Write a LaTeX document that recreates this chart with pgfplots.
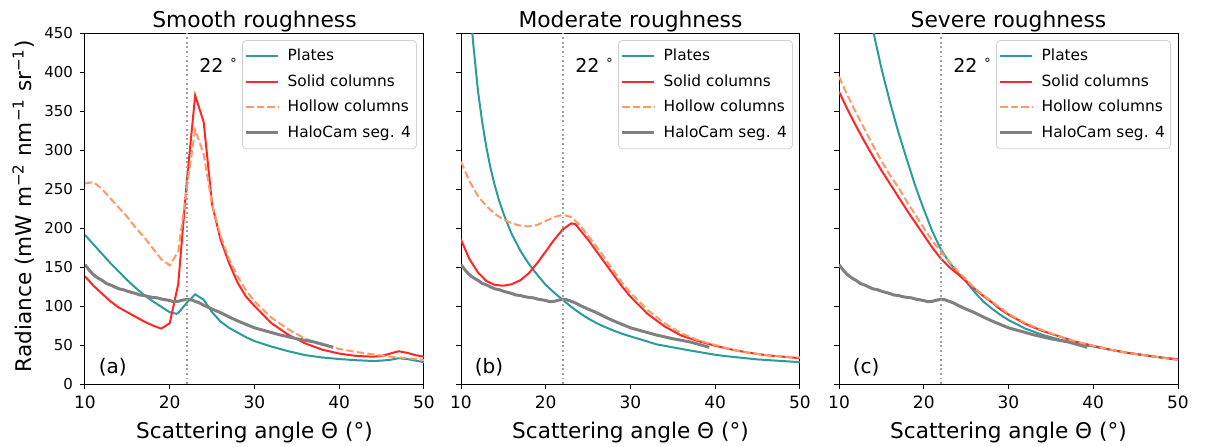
\documentclass[border=0pt]{standalone}
\usepackage{fontspec}
\setmainfont{DejaVu Sans}
\usepackage{pgfplots}
\pgfplotsset{compat=1.18}

\definecolor{cplate}{HTML}{2A9D98}
\definecolor{csolid}{HTML}{FF2626}
\definecolor{chollow}{HTML}{FF9966}
\definecolor{chalo}{HTML}{808080}

\newcommand{\halo}{%
\addplot[chalo, line width=1.5pt] coordinates {
(10,153) (10.5,146) (11,140) (11.5,136) (12,133) (12.5,129) (13,127) (13.5,124.5) (14,122) (14.5,121) (15,119)
(15.5,117.5) (16,116) (16.5,114) (17,113.5) (17.5,112) (18,111) (18.5,110.5) (19,109) (19.5,108) (20,107)
(20.5,105.5) (21,106) (21.5,107.5) (22,108.5) (22.5,108) (23,106) (23.5,104) (24,101) (25,96) (26,91.5)
(27,86) (28,81) (29,76.5) (30,72) (31,69) (32,66) (33,63) (34,60.5) (35,58) (36,56) (37,54) (38,51) (39,48) (39.3,47)};}

\newcommand{\dline}{%
\addplot[gray!75, line width=0.9pt, dash pattern=on 0.9pt off 1.4pt, forget plot] coordinates {(22,0) (22,450)};}

\pgfplotsset{
  myax/.style={
    width=169.5pt, height=175.5pt, scale only axis,
    xmin=10, xmax=50, ymin=0, ymax=450,
    xtick={10,20,30,40,50}, ytick={0,50,...,450},
    xtick pos=bottom, ytick pos=left,
    tick align=outside, major tick length=2.5pt,
    tick style={line width=0.5pt, black},
    axis line style={line width=0.5pt},
    /pgf/number format/assume math mode=true,
    xticklabel style={font=\fontsize{8.5}{10}\selectfont},
    yticklabel style={font=\fontsize{7.5}{9}\selectfont},
    title style={at={(0.5,1)}, anchor=base, yshift=-3pt, font=\fontsize{10.9}{13}\selectfont},
    xlabel={Scattering angle Θ (°)},
    xlabel style={at={(axis description cs:0.5,0)}, anchor=base, yshift=-27pt, font=\fontsize{10.8}{13}\selectfont},
    legend cell align=left,
    legend style={at={(1,1)}, xshift=-3.5pt, yshift=-3.5pt, anchor=north east,
      draw=black!18, rounded corners=2pt, font=\fontsize{7.7}{9}\selectfont,
      inner xsep=0.8pt, inner ysep=2.3pt, row sep=1.4pt},
    legend image code/.code={\draw[#1] (0pt,0pt) -- (16pt,0pt); \path (-0.3pt,0pt) (18pt,0pt);},
    every axis plot/.append style={line width=1pt},
  }
}

\begin{document}
\begin{tikzpicture}
\useasboundingbox (-42.5pt,-31pt) rectangle (560pt,192pt);

% ---------------- (a) ----------------
\begin{axis}[myax, at={(0pt,0pt)}, title={Smooth roughness}]
\addplot[cplate] coordinates {
(10,191) (11,179) (12,167) (13,155) (14,144) (15,133) (16,123) (17,114) (18,106) (19,99) (20,92) (20.8,90)
(21,91) (22,104) (23,115) (24,108) (25,92) (26,80) (27,72) (28,66) (29,60) (30,55) (32,48) (34,42) (36,37)
(38,34) (40,32) (42,30.5) (44,29.5) (45,30) (46,31) (47,33) (48,32) (49,30) (50,28)};
\addlegendentry{Plates}
\addplot[csolid] coordinates {
(10,138) (11,126) (12,116) (13,106) (14,98) (15,92) (16,86) (17,80) (18,75) (19,71) (20,78) (21,128)
(22,258) (23,370) (24,336) (25,230) (26,185) (27,155) (28,130) (29,112) (30,100) (32,78) (34,63) (36,52)
(38,44) (40,39) (42,36) (44,35) (45,36) (46,39) (47,42) (48,40) (49,37) (50,35)};
\addlegendentry{Solid columns}
\addplot[chollow, dash pattern=on 3.7pt off 1.6pt] coordinates {
(10,257) (11,259) (12,250) (13,238) (14,226) (15,214) (16,200) (17,188) (18,174) (19,160) (20,152) (21,170)
(22,250) (23,326) (24,295) (25,230) (26,190) (27,160) (28,138) (29,120) (30,106) (32,85) (34,70) (36,58)
(38,50) (40,45) (42,41) (44,38) (46,35) (48,33) (50,31)};
\addlegendentry{Hollow columns}
\halo
\addlegendentry{HaloCam seg. 4}
\dline
\node[anchor=base west, font=\fontsize{9.5}{11}\selectfont] at (axis cs:22.65,400) {22 \textsuperscript{∘}};
\node[anchor=base west, font=\fontsize{10}{12}\selectfont] at (axis cs:10.8,14) {(a)};
\end{axis}
\node[rotate=90, anchor=base, font=\fontsize{10.8}{13}\selectfont] at (-26.7pt,89pt)
  {Radiance (mW m\textsuperscript{−2} nm\textsuperscript{−1} sr\textsuperscript{−1})};

% ---------------- (b) ----------------
\begin{axis}[myax, at={(188pt,0pt)}, title={Moderate roughness}, yticklabels={}]
\addplot[cplate] coordinates {
(10,665) (10.5,573) (11,490) (11.5,430) (12,376) (12.5,336) (13,303) (13.5,276) (14,254) (14.5,235) (15,219)
(15.5,205) (16,192) (17,171) (18,154) (19,140) (20,127) (21,117) (22,108) (23,99) (24,91) (25,84) (26,78)
(27,73) (28,68.5) (29,64.5) (30,61) (31,57.8) (32,54.5) (33,51) (35,47) (37,43) (40,37.5) (41,36) (45,31.5) (50,28)};
\addlegendentry{Plates}
\addplot[csolid] coordinates {
(10,185) (11,160) (12,143) (13,132) (14,127) (15,126) (16,128) (17,133) (18,142) (19,155) (20,170) (21,185)
(22,198) (23,206) (23.5,205) (24,198) (25,185) (26,170) (27,155) (28,140) (29,125) (30,112) (32,90) (34,74)
(36,62) (38,55) (40,49) (42,44) (44,40) (46,37) (48,35) (50,33)};
\addlegendentry{Solid columns}
\addplot[chollow, dash pattern=on 3.7pt off 1.6pt] coordinates {
(10,285) (11,260) (12,241) (13,228) (14,218) (15,211) (16,206) (17,203) (18,202) (19,204) (20,209) (21,214)
(22,217) (23,214) (24,204) (25,190) (26,176) (27,161) (28,145) (29,130) (30,117) (32,95) (34,78) (36,65)
(38,56) (40,50) (42,44) (44,40) (46,37) (48,35) (50,34)};
\addlegendentry{Hollow columns}
\halo
\addlegendentry{HaloCam seg. 4}
\dline
\node[anchor=base west, font=\fontsize{9.5}{11}\selectfont] at (axis cs:22.65,400) {22 \textsuperscript{∘}};
\node[anchor=base west, font=\fontsize{10}{12}\selectfont] at (axis cs:10.8,14) {(b)};
\end{axis}

% ---------------- (c) ----------------
\begin{axis}[myax, at={(377pt,0pt)}, title={Severe roughness}, yticklabels={}]
\addplot[cplate] coordinates {
(10,720) (11,640) (12,572) (13,508) (14,454) (15,405) (16,362) (17,323) (18,288) (19,254) (20,224) (21,196)
(22,173) (23,156) (24,143) (25,131) (26,118) (27,106) (28,97) (29,89) (30,82) (32,71) (34,63) (36,57)
(38,52) (40,48) (42,44) (44,40) (46,37) (48,34) (50,32)};
\addlegendentry{Plates}
\addplot[csolid] coordinates {
(10,375) (11,352) (12,331) (13,311) (14,292) (15,274) (16,257) (17,240) (18,223) (19,207) (20,191) (21,175)
(22,161) (23,150) (24,141) (25,132) (26,122) (27,113) (28,105) (29,96) (30,89) (32,77) (34,68) (36,61)
(38,54) (40,49) (42,44) (44,40) (46,37) (48,34) (50,31)};
\addlegendentry{Solid columns}
\addplot[chollow, dash pattern=on 3.7pt off 1.6pt] coordinates {
(10,394) (11,370) (12,348) (13,327) (14,306) (15,286) (16,268) (17,252) (18,234) (19,217) (20,200) (21,184)
(22,170) (23,157) (24,145) (25,134) (26,123) (27,114) (28,106) (30,90) (32,78) (34,69) (36,61) (38,54)
(40,49) (42,44) (44,40) (46,37) (48,34) (50,31)};
\addlegendentry{Hollow columns}
\halo
\addlegendentry{HaloCam seg. 4}
\dline
\node[anchor=base west, font=\fontsize{9.5}{11}\selectfont] at (axis cs:22.65,400) {22 \textsuperscript{∘}};
\node[anchor=base west, font=\fontsize{10}{12}\selectfont] at (axis cs:10.8,14) {(c)};
\end{axis}
\end{tikzpicture}
\end{document}
